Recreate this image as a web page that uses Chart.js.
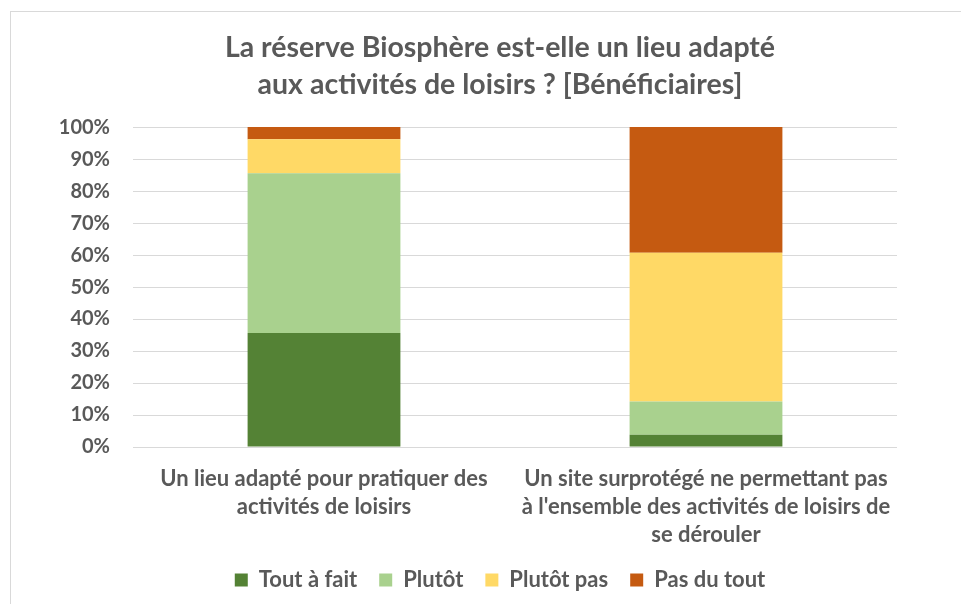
<!DOCTYPE html>
<html>
<head>
<meta charset="utf-8">
<script src="https://cdn.jsdelivr.net/npm/chart.js@4"></script>
<style>
    html, body { margin: 0; padding: 0; background: #fff; }
    .frame { position: absolute; left: 10px; top: 11px; width: 980px; height: 640px; border: 1px solid #D9D9D9; }
    .wrap { position: absolute; left: 0; top: 0; width: 961px; height: 604px; }
</style>
</head>
<body>
<div class="frame"></div>
<div class="wrap"><canvas id="chart"></canvas></div>
<script>
// Data
const categories = [
    ['Un lieu adapté pour pratiquer des', 'activités de loisirs'],
    ['Un site surprotégé ne permettant pas', 'à l\'ensemble des activités de loisirs de', 'se dérouler']
];
const toutAFait = [35.6, 3.8];
const plutot = [50.0, 10.4];
const plutotPas = [10.6, 46.5];
const pasDuTout = [3.8, 39.3];
const yTicks = [0, 10, 20, 30, 40, 50, 60, 70, 80, 90, 100];

const gray = '#595959';
const fontFamily = 'Lato, "Open Sans", sans-serif';

new Chart(document.getElementById('chart'), {
    type: 'bar',
    data: {
        labels: categories,
        datasets: [
            { label: 'Tout à fait', data: toutAFait, backgroundColor: '#548235' },
            { label: 'Plutôt', data: plutot, backgroundColor: '#A9D18E' },
            { label: 'Plutôt pas', data: plutotPas, backgroundColor: '#FFD966' },
            { label: 'Pas du tout', data: pasDuTout, backgroundColor: '#C55A11' }
        ]
    },
    options: {
        responsive: true,
        maintainAspectRatio: false,
        animation: false,
        layout: { padding: { left: 60, right: 21, top: 0, bottom: 3 } },
        datasets: {
            bar: { categoryPercentage: 1, barPercentage: 0.4 }
        },
        plugins: {
            title: {
                display: true,
                text: ['La réserve Biosphère est-elle un lieu adapté', 'aux activités de loisirs ? [Bénéficiaires]'],
                color: gray,
                font: { family: fontFamily, size: 28.5, weight: 'bold', lineHeight: 1.3 },
                padding: { top: 29, bottom: 24 }
            },
            legend: {
                position: 'bottom',
                labels: {
                    color: gray,
                    boxWidth: 13,
                    boxHeight: 13,
                    padding: 22,
                    font: { family: fontFamily, size: 22, weight: 'bold' }
                }
            },
            tooltip: { enabled: false }
        },
        scales: {
            x: {
                stacked: true,
                grid: { display: false },
                border: { display: false },
                ticks: {
                    color: gray,
                    padding: 10,
                    maxRotation: 0,
                    autoSkip: false,
                    font: { family: fontFamily, size: 22, weight: 'bold', lineHeight: 1.27 }
                },
                afterFit: axis => { axis.height = 100; }
            },
            y: {
                stacked: true,
                min: 0,
                max: 100,
                afterBuildTicks: axis => { axis.ticks = yTicks.map(v => ({ value: v })); },
                afterFit: axis => { axis.width = 73; },
                grid: { color: '#D9D9D9', lineWidth: 1, drawTicks: false },
                border: { display: false },
                ticks: {
                    color: gray,
                    padding: 23,
                    font: { family: fontFamily, size: 20, weight: 'bold' },
                    callback: v => v + '%'
                }
            },
            // empty right-hand spacer so the plot ends where the reference's does
            spacer: {
                position: 'right',
                grid: { display: false },
                border: { display: false },
                ticks: { display: false },
                afterFit: axis => { axis.width = 43; }
            }
        }
    }
});
</script>
</body>
</html>
